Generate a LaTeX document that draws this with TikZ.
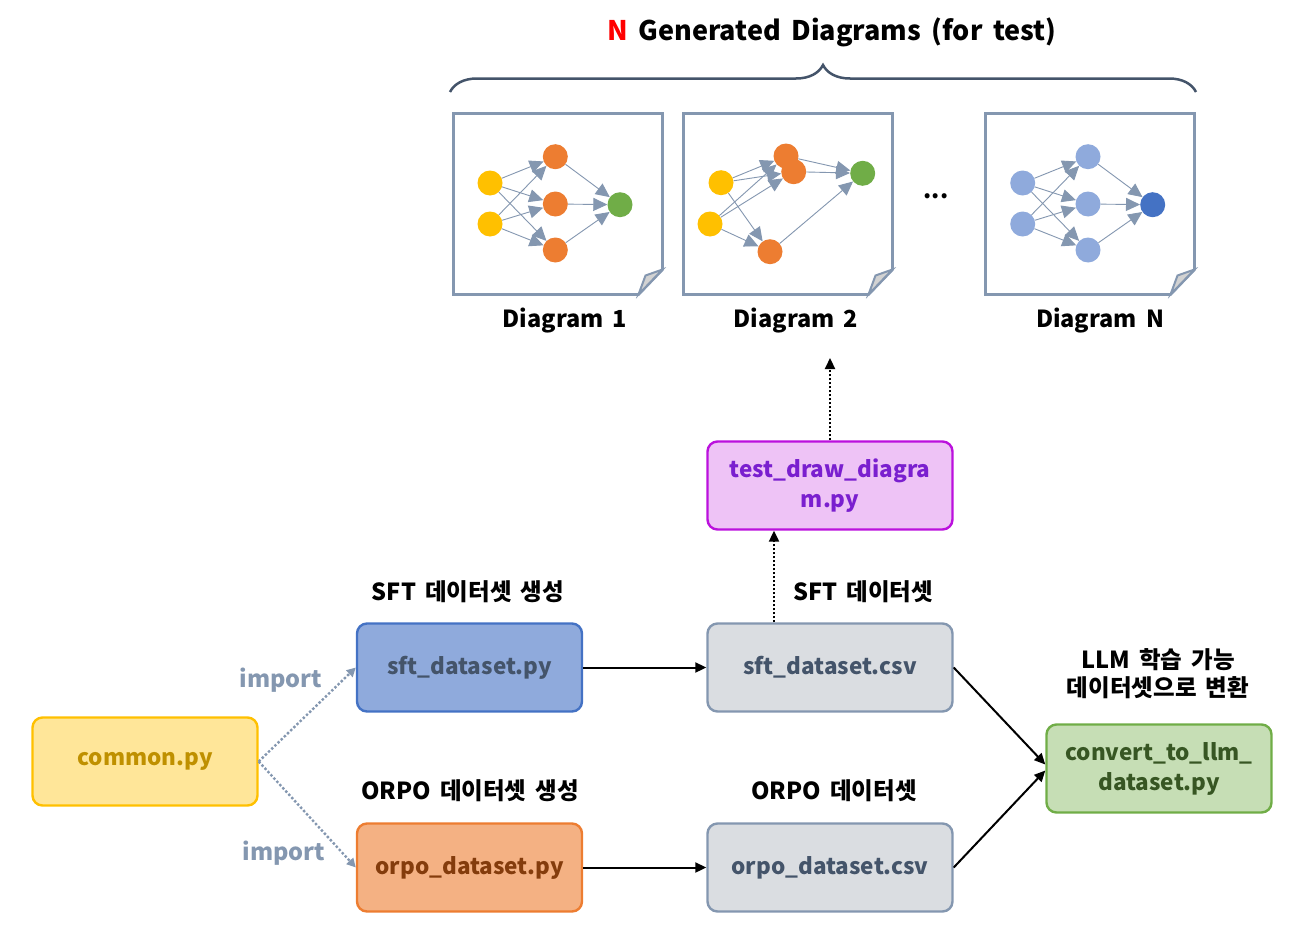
\documentclass[tikz,border=0pt]{standalone}
\usepackage{fontspec}
\setmainfont{Noto Sans CJK KR}[WordSpace=1.7]
\usetikzlibrary{arrows.meta, decorations.pathreplacing, positioning}

\definecolor{slate}{HTML}{44546A}
\definecolor{steel}{HTML}{8497B0}
\definecolor{gold}{HTML}{FFC000}
\definecolor{orng}{HTML}{ED7D31}
\definecolor{grn}{HTML}{70AD47}
\definecolor{lblue}{HTML}{8FAADC}
\definecolor{dblue}{HTML}{4472C4}
\definecolor{violet}{HTML}{BB11DD}
\definecolor{violettext}{HTML}{7A1FCF}
\definecolor{browntext}{HTML}{843C0C}
\definecolor{goldtext}{HTML}{BF9000}
\definecolor{greentext}{HTML}{375623}

\tikzset{
  file/.style={draw, rounded corners=10pt, line width=2.4pt, minimum width=225pt,
    minimum height=88pt, align=center, font=\bfseries\fontsize{22.5}{30}\selectfont},
  lbl/.style={font=\bfseries\fontsize{23.5}{28}\selectfont, align=center},
  flow/.style={-{Triangle[length=11pt,width=10pt]}, line width=2pt},
  dotflow/.style={flow, dotted, line width=2.2pt},
  imp/.style={-{Triangle[length=9pt,width=9pt]}, dotted, line width=2.4pt, steel},
  ball/.style={circle, inner sep=0pt, minimum size=25pt},
  net/.style={-{Triangle[length=14pt,width=13pt]}, line width=0.9pt, steel},
  sheet/.style={draw=steel, line width=2.8pt, fill=white}
}

\begin{document}
\begin{tikzpicture}[x=1pt, y=-1pt]
\useasboundingbox (0,0) rectangle (1306,942);
% title and brace
\node[lbl, font=\bfseries\fontsize{27}{32}\selectfont] (title) at (832,32)
  {\textcolor{red}{N} Generated Diagrams (for test)};
\draw[slate, line width=2.5pt, decorate, decoration={brace, amplitude=27pt}]
  (450,92) -- (1196,92);
% the three sheets
\foreach \px in {453.5, 683.5, 985.5} {
  \draw[sheet] (\px,113.5) -- ++(209,0) -- ++(0,156) -- ++(-24,25) -- ++(-185,0) -- cycle;
  \draw[steel, line width=2pt, fill=gray!35] (\px+185,294.5) -- ++(7,-19) -- ++(17,-6) -- cycle;
}
% sheet 1 and sheet N
\foreach \px/\pg/\cin/\chid/\cout in {0/p1/gold/orng/grn, 532.7/pn/lblue/lblue/dblue} {
  \node[ball, fill=\cin] (\pg a1) at (\px+490,183) {};
  \node[ball, fill=\cin] (\pg a2) at (\px+490,224) {};
  \node[ball, fill=\chid] (\pg b1) at (\px+555.3,156.7) {};
  \node[ball, fill=\chid] (\pg b2) at (\px+555.3,204) {};
  \node[ball, fill=\chid] (\pg b3) at (\px+555.3,250) {};
  \node[ball, fill=\cout] (\pg c) at (\px+620,204.7) {};
  \foreach \i in {a1, a2} \foreach \j in {b1, b2, b3}
    \draw[net] (\pg\i) -- (\pg\j);
  \foreach \j in {b1, b2, b3}
    \draw[net] (\pg\j) -- (\pg c);
}
% sheet 2
\node[ball, fill=gold] (p2a1) at (721,182.7) {};
\node[ball, fill=gold] (p2a2) at (710,224) {};
\node[ball, fill=orng] (p2b1) at (786,156) {};
\node[ball, fill=orng] (p2b2) at (793.7,171.7) {};
\node[ball, fill=orng] (p2b3) at (770,251.7) {};
\node[ball, fill=grn] (p2c) at (862.7,173.3) {};
\foreach \i in {a1, a2} \foreach \j in {b1, b2, b3}
  \draw[net] (p2\i) -- (p2\j);
\foreach \j in {b1, b2, b3}
  \draw[net] (p2\j) -- (p2c);
\node[lbl] (dots) at (936,196) {...};
% sheet names
\node[lbl] (name1) at (565,321) {Diagram 1};
\node[lbl] (name2) at (796,321) {Diagram 2};
\node[lbl] (nameN) at (1100,321) {Diagram N};
% script boxes
\node[file, fill=violet!25, draw=violet, text=violettext, minimum width=245pt]
  (testpy) at (830,485.5) {test\_draw\_diagra\\m.py};
\node[file, fill=lblue, draw=dblue, text=slate] (sftpy) at (469.5,667.5) {sft\_dataset.py};
\node[file, fill=slate!20, draw=steel, text=slate, minimum width=245pt]
  (sftcsv) at (830,667.5) {sft\_dataset.csv};
\node[file, fill=orng!60, draw=orng, text=browntext] (orpopy) at (469.5,867.5) {orpo\_dataset.py};
\node[file, fill=slate!20, draw=steel, text=slate, minimum width=245pt]
  (orpocsv) at (830,867.5) {orpo\_dataset.csv};
\node[file, fill=gold!40, draw=gold, text=goldtext] (common) at (145,761.5) {common.py};
\node[file, fill=grn!40, draw=grn, text=greentext] (convert) at (1159,768.5)
  {convert\_to\_llm\_\\dataset.py};
% captions
\node[lbl] (sftcap) at (468,592) {SFT 데이터셋 생성};
\node[lbl] (sftcsvcap) at (863,592) {SFT 데이터셋};
\node[lbl] (orpocap) at (470,791) {ORPO 데이터셋 생성};
\node[lbl] (orpocsvcap) at (834,791) {ORPO 데이터셋};
\node[lbl] (convcap) at (1158,674) {LLM 학습 가능\\데이터셋으로 변환};
\node[lbl, text=steel] (imp1) at (281,680) {import};
\node[lbl, text=steel] (imp2) at (284,853) {import};
% connectors
\coordinate (diagtip) at (830,358);
\draw[dotflow] (testpy.north) -- (diagtip);
\draw[dotflow] ([xshift=-56pt]sftcsv.north) -- ([xshift=-56pt]testpy.south);
\draw[flow] (sftpy) -- (sftcsv);
\draw[flow] (orpopy) -- (orpocsv);
\draw[flow] (sftcsv.east) -- ([yshift=4pt]convert.west);
\draw[flow] (orpocsv.east) -- ([yshift=-2pt]convert.west);
\draw[imp] (common.east) -- (sftpy.west);
\draw[imp] (common.east) -- (orpopy.west);
\end{tikzpicture}
\end{document}
